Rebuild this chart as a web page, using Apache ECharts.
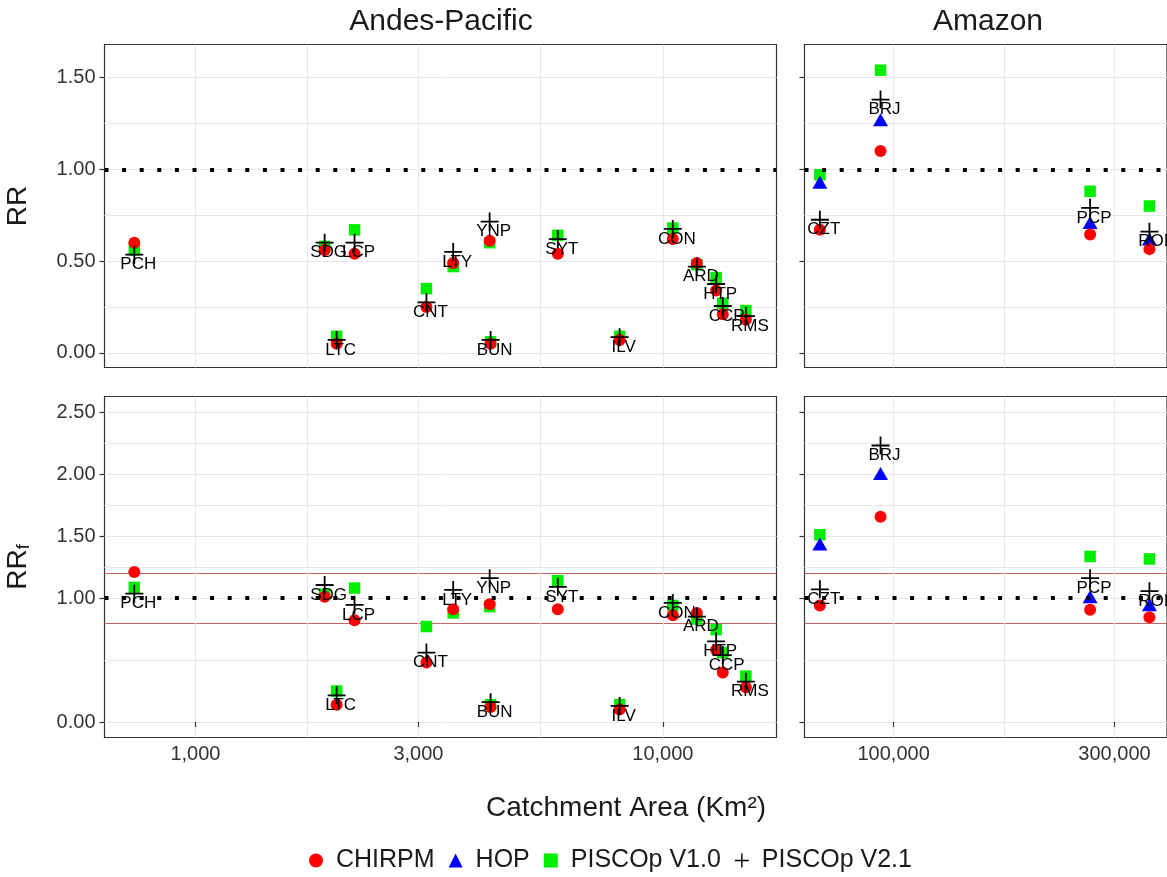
<!DOCTYPE html>
<html>
<head>
<meta charset="utf-8">
<script src="https://cdn.jsdelivr.net/npm/echarts@6/dist/echarts.min.js"></script>
<style>
  html, body { margin: 0; padding: 0; background: #fff; }
  #main { width: 1167px; height: 877px; }
</style>
</head>
<body>
<div id="main"></div>
<script>
// stations and catchment areas (km2)
var andesStations = ['PCH', 'SDG', 'LTC', 'LCP', 'CNT', 'LTY', 'YNP', 'BUN', 'SYT', 'ILV', 'CON', 'ARD', 'HTP', 'CCP', 'RMS'];
var andesArea = [740, 1890, 2005, 2190, 3120, 3560, 4260, 4280, 5960, 8080, 10500, 11820, 13000, 13430, 15050];
var amazonStations = ['CZT', 'BRJ', 'PCP', 'ROI'];
var amazonArea = [69300, 93700, 265700, 356900];

// RR
var andesRrChirpm = [0.60, 0.56, 0.05, 0.54, 0.25, 0.49, 0.61, 0.05, 0.54, 0.07, 0.62, 0.49, 0.34, 0.21, 0.18];
var andesRrPisco1 = [0.56, 0.58, 0.09, 0.67, 0.35, 0.47, 0.60, 0.06, 0.64, 0.09, 0.68, 0.48, 0.41, 0.27, 0.23];
var andesRrPisco2 = [0.535, 0.60, 0.07, 0.60, 0.275, 0.55, 0.715, 0.07, 0.62, 0.085, 0.675, 0.47, 0.375, 0.255, 0.20];
var amazonRrChirpm = [0.67, 1.10, 0.645, 0.565];
var amazonRrHop = [0.93, 1.27, 0.71, 0.62];
var amazonRrPisco1 = [0.97, 1.54, 0.88, 0.80];
var amazonRrPisco2 = [0.725, 1.38, 0.79, 0.66];

// RRf
var andesRrfChirpm = [1.21, 1.01, 0.14, 0.82, 0.48, 0.91, 0.95, 0.12, 0.91, 0.10, 0.86, 0.88, 0.58, 0.40, 0.28];
var andesRrfPisco1 = [1.085, 1.03, 0.25, 1.08, 0.77, 0.88, 0.93, 0.14, 1.14, 0.14, 0.94, 0.83, 0.745, 0.56, 0.37];
var andesRrfPisco2 = [1.035, 1.105, 0.215, 0.945, 0.56, 1.065, 1.16, 0.16, 1.09, 0.13, 0.96, 0.85, 0.65, 0.54, 0.325];
var amazonRrfChirpm = [0.94, 1.655, 0.905, 0.845];
var amazonRrfHop = [1.435, 2.005, 1.01, 0.945];
var amazonRrfPisco1 = [1.51, null, 1.335, 1.315];
var amazonRrfPisco2 = [1.07, 2.23, 1.16, 1.055];

// axis breaks, reference lines
var xTicksAndes = [1000, 3000, 10000];
var xTicksAmazon = [100000, 300000];
var yTicksRr = [0, 0.5, 1, 1.5];
var yTicksRrf = [0, 1, 1.5, 2, 2.5];
var unityLine = 1;
var rrfBand = [0.8, 1.2];

var FONT = 'Liberation Sans, Arial, sans-serif';
var PLUS = 'path://M0,9H20V11H0Z M9,0H11V20H9Z';
var BAND_COLOR = '#c86464';

// gridlines = breaks + midpoints (geometric for log)
function withMinor(ticks, isLog) {
  var out = [];
  for (var i = 0; i < ticks.length; i++) {
    out.push(ticks[i]);
    if (i < ticks.length - 1) {
      out.push(isLog ? Math.sqrt(ticks[i] * ticks[i + 1]) : (ticks[i] + ticks[i + 1]) / 2);
    }
  }
  return out;
}

function pts(area, vals, names) {
  var out = [];
  for (var i = 0; i < area.length; i++) {
    if (vals[i] == null) continue;
    out.push({ value: [area[i], vals[i]], name: names[i] });
  }
  return out;
}

var grids = [
  { left: 104.5, top: 44.5, width: 672, height: 323 },
  { left: 804.5, top: 44.5, width: 366, height: 323 },
  { left: 104.5, top: 396.5, width: 672, height: 341 },
  { left: 804.5, top: 396.5, width: 366, height: 341 }
];
var xRange = [[639, 17500], [64200, 389500], [639, 17500], [64200, 389500]];
var yRange = [[-0.08, 1.68], [-0.08, 1.68], [-0.125, 2.625], [-0.125, 2.625]];
var xTicks = [xTicksAndes, xTicksAmazon, xTicksAndes, xTicksAmazon];
var yTicks = [yTicksRr, yTicksRr, yTicksRrf, yTicksRrf];

var xAxes = [];
var yAxes = [];
grids.forEach(function (g, i) {
  var bottomRow = i >= 2;
  var leftCol = i % 2 === 0;
  xAxes.push({
    type: 'log', logBase: 10, gridIndex: i, min: xRange[i][0], max: xRange[i][1],
    axisLine: { show: false },
    splitLine: { show: false },
    axisTick: { show: bottomRow, customValues: xTicks[i], length: 5, lineStyle: { color: '#333', width: 1.2 } },
    axisLabel: {
      show: bottomRow, customValues: xTicks[i], margin: 7, fontSize: 20, fontFamily: FONT, color: '#333',
      formatter: function (v) { return Math.round(v).toLocaleString('en-US'); }
    }
  });
  xAxes.push({
    type: 'log', logBase: 10, gridIndex: i, min: xRange[i][0], max: xRange[i][1],
    axisLine: { show: false }, axisLabel: { show: false },
    axisTick: { show: false, customValues: withMinor(xTicks[i], true) },
    splitLine: { show: true, lineStyle: { color: '#e8e8e8', width: 1 } }
  });
  yAxes.push({
    type: 'value', gridIndex: i, min: yRange[i][0], max: yRange[i][1],
    axisLine: { show: false },
    splitLine: { show: false },
    axisTick: { show: true, customValues: yTicks[i], length: 5, lineStyle: { color: '#333', width: 1.2 } },
    axisLabel: {
      show: leftCol, customValues: yTicks[i], margin: 9, fontSize: 20, fontFamily: FONT, color: '#333',
      formatter: function (v) { return v.toFixed(2); }
    }
  });
  yAxes.push({
    type: 'value', gridIndex: i, min: yRange[i][0], max: yRange[i][1],
    axisLine: { show: false }, axisLabel: { show: false },
    axisTick: { show: false, customValues: withMinor(yTicks[i], false) },
    splitLine: { show: true, lineStyle: { color: '#e8e8e8', width: 1 } }
  });
});

// thin red band lines for the RRf panels, drawn as split lines of a hidden axis
[2, 3].forEach(function (i) {
  yAxes.push({
    type: 'value', gridIndex: i, min: yRange[i][0], max: yRange[i][1],
    axisLine: { show: false }, axisLabel: { show: false },
    axisTick: { show: false, customValues: rrfBand },
    splitLine: { show: true, lineStyle: { color: BAND_COLOR, width: 1 } }
  });
});

function scatter(name, gi, data) {
  var s = {
    type: 'scatter', name: name, xAxisIndex: gi * 2, yAxisIndex: gi * 2, data: data,
    emphasis: { disabled: true }
  };
  if (name === 'CHIRPM') {
    s.symbol = 'circle'; s.symbolSize = 12; s.z = 4;
    s.itemStyle = { color: '#ff0000', opacity: 1 };
  } else if (name === 'HOP') {
    s.symbol = 'triangle'; s.symbolSize = [15, 13]; s.z = 3;
    s.itemStyle = { color: '#0000ff', opacity: 1 };
  } else if (name === 'PISCOp V1.0') {
    s.symbol = 'rect'; s.symbolSize = 11.5; s.z = 2;
    s.itemStyle = { color: '#00ee00', opacity: 1 };
  } else {
    s.symbol = PLUS; s.symbolSize = 18; s.z = 5;
    s.itemStyle = { color: '#000', opacity: 1 };
    s.label = {
      show: true, position: 'inside', offset: [4, 10],
      fontSize: 17, fontFamily: FONT, color: '#000',
      formatter: function (p) { return p.name; }
    };
  }
  return s;
}

// dotted line at RR = 1
function unitySeries(gi) {
  return {
    type: 'line', name: 'unity' + gi, xAxisIndex: gi * 2, yAxisIndex: gi * 2, data: [], z: 1, silent: true,
    color: '#000',
    markLine: {
      silent: true, symbol: 'none', label: { show: false }, animation: false,
      lineStyle: { color: '#000', width: 4, type: [4, 13.6], cap: 'butt', opacity: 1 },
      data: [{ yAxis: unityLine }]
    }
  };
}

var series = [
  unitySeries(0), unitySeries(1), unitySeries(2), unitySeries(3),
  // Andes-Pacific RR
  scatter('PISCOp V1.0', 0, pts(andesArea, andesRrPisco1, andesStations)),
  scatter('HOP', 0, []),
  scatter('CHIRPM', 0, pts(andesArea, andesRrChirpm, andesStations)),
  scatter('PISCOp V2.1', 0, pts(andesArea, andesRrPisco2, andesStations)),
  // Amazon RR
  scatter('PISCOp V1.0', 1, pts(amazonArea, amazonRrPisco1, amazonStations)),
  scatter('HOP', 1, pts(amazonArea, amazonRrHop, amazonStations)),
  scatter('CHIRPM', 1, pts(amazonArea, amazonRrChirpm, amazonStations)),
  scatter('PISCOp V2.1', 1, pts(amazonArea, amazonRrPisco2, amazonStations)),
  // Andes-Pacific RRf
  scatter('PISCOp V1.0', 2, pts(andesArea, andesRrfPisco1, andesStations)),
  scatter('HOP', 2, []),
  scatter('CHIRPM', 2, pts(andesArea, andesRrfChirpm, andesStations)),
  scatter('PISCOp V2.1', 2, pts(andesArea, andesRrfPisco2, andesStations)),
  // Amazon RRf
  scatter('PISCOp V1.0', 3, pts(amazonArea, amazonRrfPisco1, amazonStations)),
  scatter('HOP', 3, pts(amazonArea, amazonRrfHop, amazonStations)),
  scatter('CHIRPM', 3, pts(amazonArea, amazonRrfChirpm, amazonStations)),
  scatter('PISCOp V2.1', 3, pts(amazonArea, amazonRrfPisco2, amazonStations))
];

function txt(x, y, text, size, rot, rich) {
  return {
    type: 'text', x: x, y: y, rotation: rot || 0, silent: true,
    style: {
      text: text, x: 0, y: 0, align: 'center', verticalAlign: 'middle',
      fontSize: size, fontFamily: FONT, fill: '#1a1a1a', rich: rich
    }
  };
}

var option = {
  animation: false,
  backgroundColor: '#fff',
  grid: grids.map(function (g) {
    return Object.assign({ show: true, borderColor: '#333', borderWidth: 1.2, backgroundColor: 'transparent', containLabel: false }, g);
  }),
  xAxis: xAxes,
  yAxis: yAxes,
  legend: {
    left: 304, top: 843, itemWidth: 14, itemHeight: 14, itemGap: 14,
    textStyle: { fontSize: 25, fontFamily: FONT, color: '#1a1a1a', padding: [0, 0, 0, 8] },
    itemStyle: { borderWidth: 0 },
    data: [
      { name: 'CHIRPM', icon: 'circle' },
      { name: 'HOP', icon: 'triangle' },
      { name: 'PISCOp V1.0', icon: 'rect' },
      { name: 'PISCOp V2.1', icon: PLUS }
    ]
  },
  graphic: [
    txt(441, 22, 'Andes-Pacific', 30),
    txt(988, 22, 'Amazon', 30),
    txt(626, 808, 'Catchment Area (Km\u00b2)', 28),
    txt(18, 206, 'RR', 28, Math.PI / 2),
    txt(18, 567, '{a|RR}{b|f}', 28, Math.PI / 2, {
      a: { fontSize: 28, fontFamily: FONT, fill: '#1a1a1a' },
      b: { fontSize: 18, fontFamily: FONT, fill: '#1a1a1a', verticalAlign: 'bottom', padding: [12, 0, 0, 0] }
    })
  ],
  series: series
};

var chart = echarts.init(document.getElementById('main'));
chart.setOption(option);
</script>
</body>
</html>
